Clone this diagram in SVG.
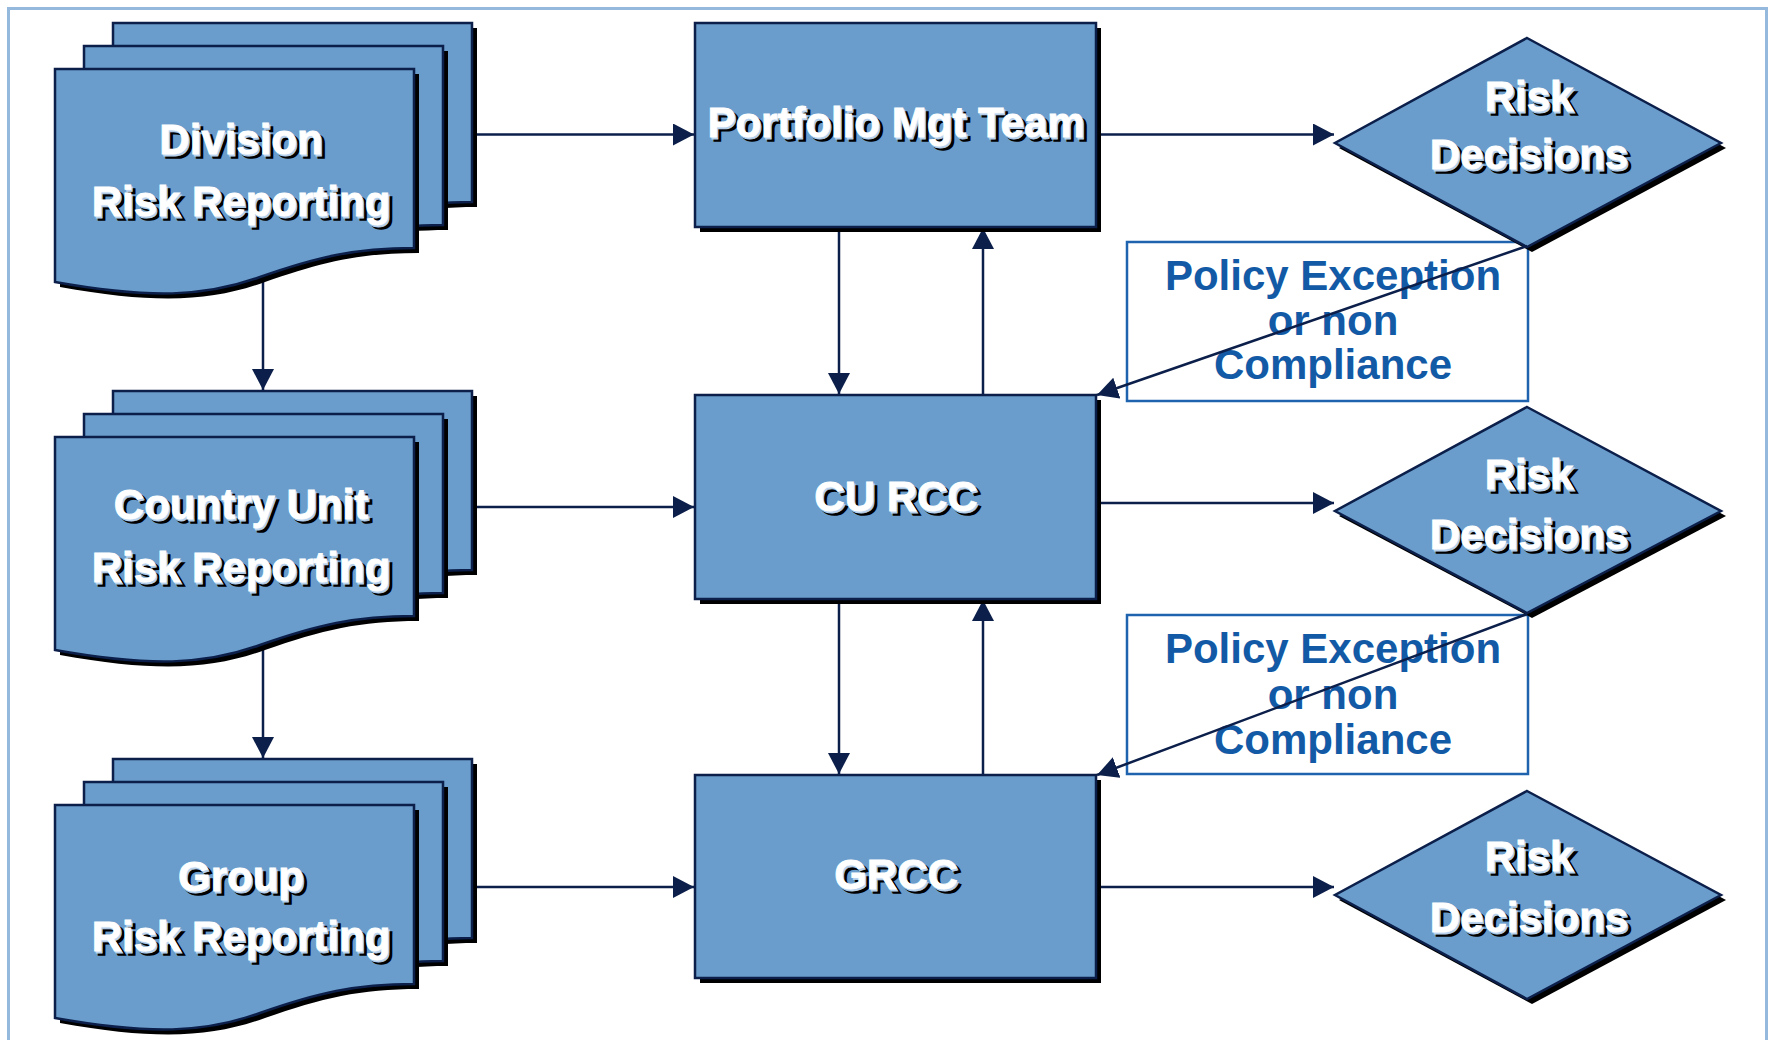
<svg xmlns="http://www.w3.org/2000/svg" xmlns:xlink="http://www.w3.org/1999/xlink" width="1772" height="1040" viewBox="0 0 1772 1040">
  <style>
    .node { fill: #6A9DCB; stroke: #0B1F4A; stroke-width: 2.5; }
    .shadow { fill: #000; }
    .lt { font-family: "Liberation Sans", Arial, sans-serif; font-weight: bold; font-size: 42px; text-anchor: middle; }
    .tsh { fill: #000; stroke: #000; stroke-width: 1.6; }
    .thl { fill: #B9D3EE; stroke: #B9D3EE; stroke-width: 0.8; }
    .tfg { fill: #fff; stroke: #fff; stroke-width: 0.8; }
    .conn { stroke: #0B1F4A; stroke-width: 2.5; fill: none; }
    .policy { fill: #fff; stroke: #1F63AE; stroke-width: 2.5; }
    .ptext { font-family: "Liberation Sans", Arial, sans-serif; font-weight: bold; font-size: 42px; text-anchor: middle; fill: #135AA6; }
  </style>
  <defs>
    <marker id="arr" markerUnits="userSpaceOnUse" markerWidth="22" markerHeight="22" refX="21" refY="11" orient="auto">
      <path d="M0,0 L21,11 L0,22 Z" fill="#0B1F4A"/>
    </marker>
    <path id="doc" d="M0,0 H359 V179 C300,179 262,188 205,208 C150,228 95,230 0,213 Z"/>
    <text id="t_div1" class="lt" x="241" y="154">Division</text>
    <text id="t_div2" class="lt" x="241" y="216">Risk Reporting</text>
    <text id="t_cu1" class="lt" x="241" y="519">Country Unit</text>
    <text id="t_cu2" class="lt" x="241" y="582">Risk Reporting</text>
    <text id="t_gr1" class="lt" x="241" y="891">Group</text>
    <text id="t_gr2" class="lt" x="241" y="951">Risk Reporting</text>
    <text id="t_pmt" class="lt" x="896" y="137">Portfolio Mgt Team</text>
    <text id="t_curcc" class="lt" x="896" y="511">CU RCC</text>
    <text id="t_grcc" class="lt" x="896" y="889">GRCC</text>
    <text id="t_r1a" class="lt" x="1529" y="111">Risk</text>
    <text id="t_r1b" class="lt" x="1529" y="169">Decisions</text>
    <text id="t_r2a" class="lt" x="1529" y="489">Risk</text>
    <text id="t_r2b" class="lt" x="1529" y="549">Decisions</text>
    <text id="t_r3a" class="lt" x="1529" y="871">Risk</text>
    <text id="t_r3b" class="lt" x="1529" y="932">Decisions</text>
  </defs>

  <rect id="frame" x="8.5" y="8.5" width="1758" height="1040" fill="#fff" stroke="#95B8DD" stroke-width="3"/>

  <g id="connectors">
    <line class="conn" x1="473" y1="134.5" x2="694" y2="134.5" marker-end="url(#arr)"/>
    <line class="conn" x1="473" y1="507" x2="694" y2="507" marker-end="url(#arr)"/>
    <line class="conn" x1="473" y1="887" x2="694" y2="887" marker-end="url(#arr)"/>
    <line class="conn" x1="263" y1="277" x2="263" y2="390" marker-end="url(#arr)"/>
    <line class="conn" x1="263" y1="645" x2="263" y2="758" marker-end="url(#arr)"/>
    <line class="conn" x1="839" y1="228" x2="839" y2="394" marker-end="url(#arr)"/>
    <line class="conn" x1="983" y1="395" x2="983" y2="228" marker-end="url(#arr)"/>
    <line class="conn" x1="839" y1="600" x2="839" y2="774" marker-end="url(#arr)"/>
    <line class="conn" x1="983" y1="775" x2="983" y2="600" marker-end="url(#arr)"/>
    <line class="conn" x1="1097" y1="134.5" x2="1334" y2="134.5" marker-end="url(#arr)"/>
    <line class="conn" x1="1097" y1="503" x2="1334" y2="503" marker-end="url(#arr)"/>
    <line class="conn" x1="1097" y1="887" x2="1334" y2="887" marker-end="url(#arr)"/>
  </g>

  <g id="division-risk-reporting">
    <use xlink:href="#doc" x="118" y="28" class="shadow"/>
    <use xlink:href="#doc" x="113" y="23" class="node"/>
    <use xlink:href="#doc" x="89" y="51" class="shadow"/>
    <use xlink:href="#doc" x="84" y="46" class="node"/>
    <use xlink:href="#doc" x="60" y="74" class="shadow"/>
    <use xlink:href="#doc" x="55" y="69" class="node"/>
    <use xlink:href="#t_div1" x="4" y="4" class="tsh"/><use xlink:href="#t_div1" x="1.5" y="1.5" class="thl"/><use xlink:href="#t_div1" class="tfg"/>
    <use xlink:href="#t_div2" x="4" y="4" class="tsh"/><use xlink:href="#t_div2" x="1.5" y="1.5" class="thl"/><use xlink:href="#t_div2" class="tfg"/>
  </g>

  <g id="country-unit-risk-reporting">
    <use xlink:href="#doc" x="118" y="396" class="shadow"/>
    <use xlink:href="#doc" x="113" y="391" class="node"/>
    <use xlink:href="#doc" x="89" y="419" class="shadow"/>
    <use xlink:href="#doc" x="84" y="414" class="node"/>
    <use xlink:href="#doc" x="60" y="442" class="shadow"/>
    <use xlink:href="#doc" x="55" y="437" class="node"/>
    <use xlink:href="#t_cu1" x="4" y="4" class="tsh"/><use xlink:href="#t_cu1" x="1.5" y="1.5" class="thl"/><use xlink:href="#t_cu1" class="tfg"/>
    <use xlink:href="#t_cu2" x="4" y="4" class="tsh"/><use xlink:href="#t_cu2" x="1.5" y="1.5" class="thl"/><use xlink:href="#t_cu2" class="tfg"/>
  </g>

  <g id="group-risk-reporting">
    <use xlink:href="#doc" x="118" y="764" class="shadow"/>
    <use xlink:href="#doc" x="113" y="759" class="node"/>
    <use xlink:href="#doc" x="89" y="787" class="shadow"/>
    <use xlink:href="#doc" x="84" y="782" class="node"/>
    <use xlink:href="#doc" x="60" y="810" class="shadow"/>
    <use xlink:href="#doc" x="55" y="805" class="node"/>
    <use xlink:href="#t_gr1" x="4" y="4" class="tsh"/><use xlink:href="#t_gr1" x="1.5" y="1.5" class="thl"/><use xlink:href="#t_gr1" class="tfg"/>
    <use xlink:href="#t_gr2" x="4" y="4" class="tsh"/><use xlink:href="#t_gr2" x="1.5" y="1.5" class="thl"/><use xlink:href="#t_gr2" class="tfg"/>
  </g>

  <g id="portfolio-mgt-team">
    <rect class="shadow" x="700" y="28" width="401" height="204"/>
    <rect class="node" x="695" y="23" width="401" height="204"/>
    <use xlink:href="#t_pmt" x="4" y="4" class="tsh"/><use xlink:href="#t_pmt" x="1.5" y="1.5" class="thl"/><use xlink:href="#t_pmt" class="tfg"/>
  </g>

  <g id="cu-rcc">
    <rect class="shadow" x="700" y="400" width="401" height="204"/>
    <rect class="node" x="695" y="395" width="401" height="204"/>
    <use xlink:href="#t_curcc" x="4" y="4" class="tsh"/><use xlink:href="#t_curcc" x="1.5" y="1.5" class="thl"/><use xlink:href="#t_curcc" class="tfg"/>
  </g>

  <g id="grcc">
    <rect class="shadow" x="700" y="780" width="401" height="203"/>
    <rect class="node" x="695" y="775" width="401" height="203"/>
    <use xlink:href="#t_grcc" x="4" y="4" class="tsh"/><use xlink:href="#t_grcc" x="1.5" y="1.5" class="thl"/><use xlink:href="#t_grcc" class="tfg"/>
  </g>

  <g id="policy-exception-1">
    <rect class="policy" x="1127" y="242" width="401" height="159"/>
    <text class="ptext" x="1333" y="290">Policy Exception</text>
    <text class="ptext" x="1333" y="335">or non</text>
    <text class="ptext" x="1333" y="379">Compliance</text>
  </g>

  <g id="policy-exception-2">
    <rect class="policy" x="1127" y="615" width="401" height="159"/>
    <text class="ptext" x="1333" y="663">Policy Exception</text>
    <text class="ptext" x="1333" y="709">or non</text>
    <text class="ptext" x="1333" y="754">Compliance</text>
  </g>

  <g id="risk-decisions-1">
    <polygon class="shadow" points="1532,43 1726,148 1532,252 1339,148"/>
    <polygon class="node" points="1527,38 1721,143 1527,247 1335,143"/>
    <use xlink:href="#t_r1a" x="4" y="4" class="tsh"/><use xlink:href="#t_r1a" x="1.5" y="1.5" class="thl"/><use xlink:href="#t_r1a" class="tfg"/>
    <use xlink:href="#t_r1b" x="4" y="4" class="tsh"/><use xlink:href="#t_r1b" x="1.5" y="1.5" class="thl"/><use xlink:href="#t_r1b" class="tfg"/>
  </g>

  <g id="risk-decisions-2">
    <polygon class="shadow" points="1532,412 1726,516 1532,618 1339,516"/>
    <polygon class="node" points="1527,407 1721,511 1527,613 1335,511"/>
    <use xlink:href="#t_r2a" x="4" y="4" class="tsh"/><use xlink:href="#t_r2a" x="1.5" y="1.5" class="thl"/><use xlink:href="#t_r2a" class="tfg"/>
    <use xlink:href="#t_r2b" x="4" y="4" class="tsh"/><use xlink:href="#t_r2b" x="1.5" y="1.5" class="thl"/><use xlink:href="#t_r2b" class="tfg"/>
  </g>

  <g id="risk-decisions-3">
    <polygon class="shadow" points="1532,796 1726,900 1532,1004 1339,900"/>
    <polygon class="node" points="1527,791 1721,895 1527,999 1335,895"/>
    <use xlink:href="#t_r3a" x="4" y="4" class="tsh"/><use xlink:href="#t_r3a" x="1.5" y="1.5" class="thl"/><use xlink:href="#t_r3a" class="tfg"/>
    <use xlink:href="#t_r3b" x="4" y="4" class="tsh"/><use xlink:href="#t_r3b" x="1.5" y="1.5" class="thl"/><use xlink:href="#t_r3b" class="tfg"/>
  </g>

  <g id="connectors-diagonal">
    <line class="conn" x1="1527" y1="246" x2="1097" y2="395" marker-end="url(#arr)"/>
    <line class="conn" x1="1527" y1="614" x2="1097" y2="775" marker-end="url(#arr)"/>
  </g>
</svg>
